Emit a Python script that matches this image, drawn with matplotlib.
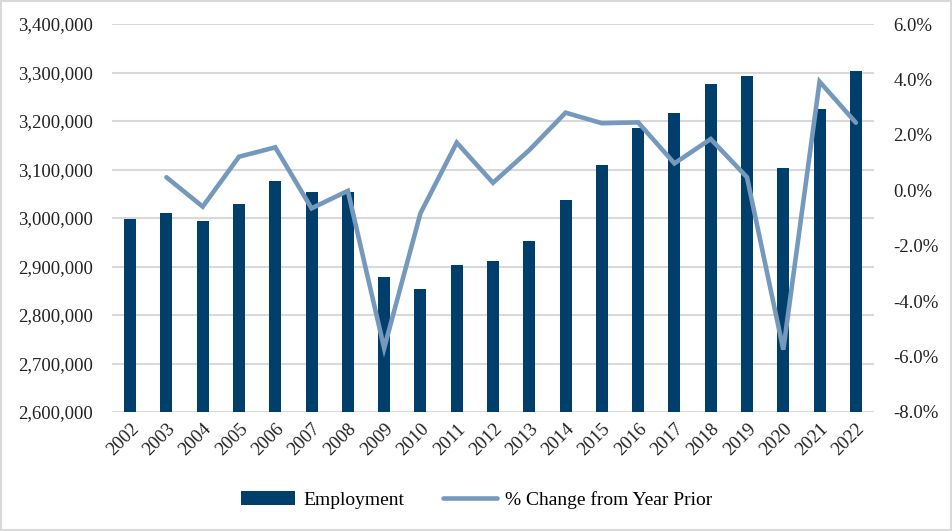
import matplotlib
matplotlib.use('Agg')
import matplotlib.pyplot as plt
from matplotlib.ticker import FuncFormatter
from matplotlib.patches import Rectangle
import numpy as np

years = ['2002', '2003', '2004', '2005', '2006', '2007', '2008', '2009', '2010', '2011', '2012',
         '2013', '2014', '2015', '2016', '2017', '2018', '2019', '2020', '2021', '2022']
employment = [2998000, 3010300, 2993800, 3028900, 3076300, 3053600, 3054000, 2878400, 2853600,
              2903100, 2911300, 2952600, 3037100, 3109300, 3185600, 3216500, 3276300, 3292800,
              3103100, 3224700, 3303100]
# no value for the first year
pct_change = [None, 0.47, -0.59, 1.21, 1.55, -0.65, -0.02, -5.70, -0.83, 1.72, 0.27,
              1.45, 2.80, 2.42, 2.45, 0.97, 1.85, 0.47, -5.75, 3.92, 2.44]

barColor = '#003F6B'
lineColor = '#7599BC'
gridColor = '#D9D9D9'

plt.rcParams['font.family'] = ['Liberation Serif', 'DejaVu Serif']

fig = plt.figure(figsize=(9.53, 5.31), dpi=100)
ax = fig.add_axes([112/953, (531-412)/531, (874-112)/953, (412-24)/531])
ax2 = ax.twinx()

x = np.arange(len(years))
ax.bar(x, employment, width=0.33, color=barColor, label='Employment', zorder=3)
px = [i for i, v in zip(x, pct_change) if v is not None]
pv = [v for v in pct_change if v is not None]
ax2.plot(px, pv, color=lineColor, lw=3.3, solid_capstyle='round', solid_joinstyle='miter',
         label='% Change from Year Prior', zorder=4)

ax.set_xlim(-0.5, len(years) - 0.5)
ax.set_ylim(2600000, 3400000)
ax.set_yticks(np.arange(2600000, 3400001, 100000))
ax.yaxis.set_major_formatter(FuncFormatter(lambda v, p: '{:,.0f}'.format(v)))
ax2.set_ylim(-8, 6)
ax2.set_yticks(np.arange(-8, 6.01, 2))
ax2.yaxis.set_major_formatter(FuncFormatter(lambda v, p: '{:.1f}%'.format(v)))

ax.set_xticks(x)
ax.set_xticklabels(years, rotation=45, ha='right', rotation_mode='anchor')
ax.grid(axis='y', color=gridColor, lw=1.5, zorder=0)
ax.set_axisbelow(True)
for a in (ax, ax2):
    for s in a.spines.values():
        s.set_visible(False)
    a.tick_params(length=0, labelsize=13.5, colors='#222222')
ax.tick_params(axis='x', pad=6)
ax.tick_params(axis='y', pad=14)
ax2.tick_params(axis='y', pad=14)

#legend below the plot, both series
h1, l1 = ax.get_legend_handles_labels()
h2, l2 = ax2.get_legend_handles_labels()
fig.legend(h1 + h2, l1 + l2, loc='center', bbox_to_anchor=(0.5, 31/531),
           ncol=2, frameon=False, fontsize=14, handlelength=2.8, columnspacing=2.0,
           handletextpad=0.4)

fig.patches.append(Rectangle((0.001, 0.002), 0.997, 0.996, transform=fig.transFigure,
                             fill=False, edgecolor='#D9D9D9', lw=1.5))

fig.savefig('out.png', dpi=100)
